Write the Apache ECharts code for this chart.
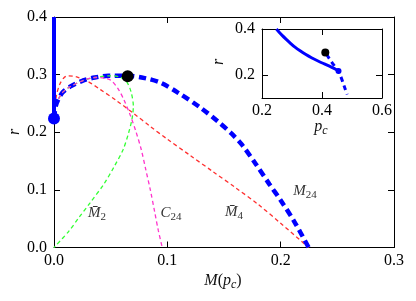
<!DOCTYPE html>
<html><head><meta charset="utf-8">
<script src="https://cdn.jsdelivr.net/npm/echarts@6/dist/echarts.min.js"></script>
<style>html,body{margin:0;padding:0;background:#fff}#c{width:416px;height:301px}</style>
</head><body><div id="c"></div>
<script>
// ---- data (x = M(p_c) or p_c, y = r) ----
const mainXTicks = [0, 0.1, 0.2, 0.3];
const mainYTicks = [0, 0.1, 0.2, 0.3, 0.4];
const insetXTicks = [0.2, 0.4, 0.6];
const insetYTicks = [0.2, 0.4];

const verticalBranch = [[0, 0.224], [0, 0.4]];
const M24 = [[0,0.224],[0.0015,0.245],[0.004,0.258],[0.008,0.27],[0.015,0.28],[0.026,0.29],[0.036,0.295],[0.048,0.298],[0.065,0.298],[0.08,0.294],[0.094,0.286],[0.11,0.268],[0.129,0.243],[0.145,0.218],[0.157,0.197],[0.166,0.178],[0.178,0.145],[0.19,0.11],[0.2,0.082],[0.212,0.045],[0.2247,0]];
const M4bar = [[0,0.222],[0.002,0.262],[0.005,0.283],[0.009,0.295],[0.0127,0.298],[0.02,0.296],[0.03,0.288],[0.041,0.274],[0.055,0.255],[0.07,0.233],[0.085,0.21],[0.1,0.188],[0.12,0.16],[0.14,0.132],[0.16,0.104],[0.18,0.075],[0.2,0.042],[0.2247,0]];
const M2bar = [[0.004,0.258],[0.008,0.27],[0.015,0.28],[0.026,0.29],[0.036,0.295],[0.048,0.298],[0.058,0.296],[0.064,0.288],[0.068,0.27],[0.07,0.245],[0.069,0.225],[0.066,0.2],[0.061,0.17],[0.053,0.14],[0.044,0.11],[0.032,0.078],[0.022,0.052],[0.013,0.028],[0,0]];
const C24 = [[0.004,0.258],[0.008,0.27],[0.015,0.28],[0.026,0.29],[0.036,0.295],[0.045,0.294],[0.051,0.289],[0.057,0.274],[0.062,0.255],[0.067,0.231],[0.072,0.203],[0.077,0.17],[0.081,0.135],[0.085,0.1],[0.089,0.06],[0.092,0.03],[0.0955,0]];
const criticalPoint = [[0.065, 0.297]];
const branchPoint = [[0, 0.224]];

const insetSolid = [[0.248,0.4],[0.258,0.385],[0.268,0.371],[0.28,0.356],[0.295,0.338],[0.31,0.321],[0.327,0.305],[0.345,0.29],[0.365,0.275],[0.385,0.262],[0.405,0.25],[0.425,0.239],[0.44,0.229],[0.455,0.218]];
const insetDashed = [[0.415,0.29],[0.425,0.27],[0.435,0.251],[0.445,0.234],[0.455,0.217],[0.462,0.195],[0.47,0.167],[0.477,0.14],[0.484,0.115]];
const insetCritical = [[0.411, 0.298]];
const insetBranch = [[0.455, 0.217]];

const FONT = 'Liberation Serif';
const fmt = v => v.toFixed(1);

const chart = echarts.init(document.getElementById('c'), null, {renderer:'canvas'});

function axisCommon(extra){
  return Object.assign({
    type:'value',
    axisLine:{show:true, onZero:false, lineStyle:{color:'#000', width:1}},
    axisTick:{show:true, inside:true, length:6, lineStyle:{color:'#000', width:1}},
    splitLine:{show:false},
    axisLabel:{show:false}
  }, extra);
}
const lab = (margin) => ({show:true, color:'#000', fontFamily:FONT, fontSize:16, margin:margin, formatter:fmt});

const option = {
  animation:false,
  backgroundColor:'#fff',
  grid:[
    {left:54, top:17, width:340, height:230.5, containLabel:false},
    {left:262, top:29, width:120, height:69, containLabel:false, show:true, backgroundColor:'#fff', borderWidth:0, z:5}
  ],
  xAxis:[
    axisCommon({gridIndex:0, position:'bottom', min:0, max:0.3, interval:0.1, axisLabel:lab(5)}),
    axisCommon({gridIndex:0, position:'top', min:0, max:0.3, interval:0.1}),
    axisCommon({gridIndex:1, position:'bottom', min:0.2, max:0.6, interval:0.2, axisLabel:lab(5), z:6}),
    axisCommon({gridIndex:1, position:'top', min:0.2, max:0.6, interval:0.2, z:6})
  ],
  yAxis:[
    axisCommon({gridIndex:0, position:'left', min:0, max:0.4, interval:0.1, axisLabel:lab(7)}),
    axisCommon({gridIndex:0, position:'right', min:0, max:0.4, interval:0.1}),
    axisCommon({gridIndex:1, position:'left', min:0.1, max:0.4,
      axisTick:{show:true, inside:true, length:6, lineStyle:{color:'#000'}, customValues:insetYTicks},
      axisLabel:Object.assign(lab(7), {customValues:insetYTicks}), z:6}),
    axisCommon({gridIndex:1, position:'right', min:0.1, max:0.4,
      axisTick:{show:true, inside:true, length:6, lineStyle:{color:'#000'}, customValues:insetYTicks}, z:6})
  ],
  series:[
    {type:'line', xAxisIndex:0, yAxisIndex:0, data:M4bar, showSymbol:false, smooth:0.3, z:2,
      lineStyle:{color:'#ff3030', width:1.3, type:[4,3]}},
    {type:'line', xAxisIndex:0, yAxisIndex:0, data:M24, showSymbol:false, smooth:0.3, z:3,
      lineStyle:{color:'#0000ff', width:4.5, type:[7.5,4.5]}},
    {type:'line', xAxisIndex:0, yAxisIndex:0, data:M2bar, showSymbol:false, smooth:0.3, z:4,
      lineStyle:{color:'#33ff33', width:1.3, type:[4,3]}},
    {type:'line', xAxisIndex:0, yAxisIndex:0, data:C24, showSymbol:false, smooth:0.3, z:4,
      lineStyle:{color:'#ff33cc', width:1.3, type:[4,3]}},
    {type:'line', xAxisIndex:0, yAxisIndex:0, data:verticalBranch, showSymbol:false, z:3, clip:false,
      lineStyle:{color:'#0000ff', width:4}},
    {type:'scatter', xAxisIndex:0, yAxisIndex:0, data:branchPoint, symbolSize:12, clip:false, z:6,
      itemStyle:{color:'#0000ff', opacity:1}},
    {type:'scatter', xAxisIndex:0, yAxisIndex:0, data:criticalPoint, symbolSize:12, z:6,
      itemStyle:{color:'#000', opacity:1}},
    {type:'line', xAxisIndex:2, yAxisIndex:2, data:insetSolid, showSymbol:false, smooth:0.2, z:7,
      lineStyle:{color:'#0000ff', width:3}},
    {type:'line', xAxisIndex:2, yAxisIndex:2, data:insetDashed, showSymbol:false, smooth:0.3, z:7,
      lineStyle:{color:'#0000ff', width:3, type:[5,4]}},
    {type:'scatter', xAxisIndex:2, yAxisIndex:2, data:insetBranch, symbolSize:6, z:8,
      itemStyle:{color:'#0000ff', opacity:1}},
    {type:'scatter', xAxisIndex:2, yAxisIndex:2, data:insetCritical, symbolSize:8, z:8,
      itemStyle:{color:'#000', opacity:1}}
  ],
  graphic:[]
};

const rich = {
  i:{fontFamily:FONT, fontStyle:'italic', fontSize:16, fill:'#111'},
  n:{fontFamily:FONT, fontSize:16, fill:'#111'},
  si:{fontFamily:FONT, fontStyle:'italic', fontSize:12, fill:'#111', padding:[8,0,0,0]},
  a:{fontFamily:FONT, fontStyle:'italic', fontSize:15, fill:'#333'},
  as:{fontFamily:FONT, fontSize:11, fill:'#333', padding:[8,0,0,0]}
};
function txt(x, y, text, rot){
  return {type:'text', x:x, y:y, rotation:rot||0, z:100,
    style:{text:text, rich:rich, align:'center', verticalAlign:'middle', textAlign:'center', textVerticalAlign:'middle'}};
}
option.graphic = [
  txt(223, 281, '{i|M}{n|(}{i|p}{si|c}{n|)}'),
  txt(15, 132, '{i|r}', Math.PI/2),
  txt(321, 127, '{i|p}{si|c}'),
  txt(219, 62, '{i|r}', Math.PI/2),
  txt(97, 213, '{a|M\u0304}{as|2}'),
  txt(171, 213, '{a|C}{as|24}'),
  txt(234, 212, '{a|M\u0304}{as|4}'),
  txt(305, 191, '{a|M}{as|24}')
];
chart.setOption(option);
</script></body></html>
